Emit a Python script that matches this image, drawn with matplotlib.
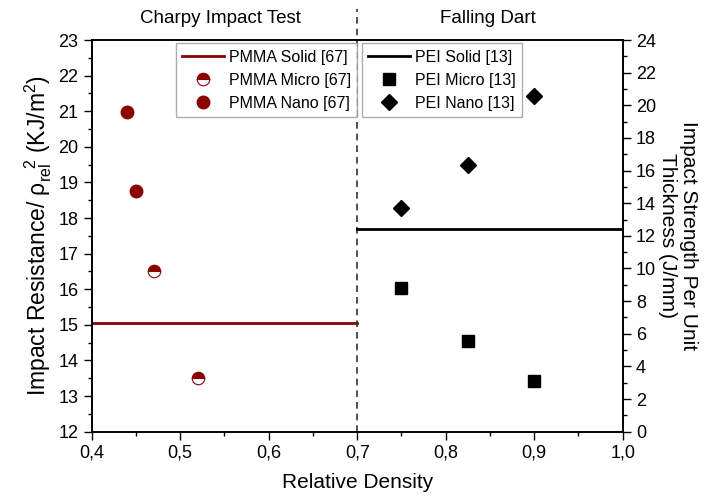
import matplotlib
matplotlib.use('Agg')
import matplotlib.pyplot as plt
from matplotlib.ticker import MultipleLocator, FuncFormatter

plt.rcParams['font.family'] = ['Liberation Sans', 'DejaVu Sans']
plt.rcParams['mathtext.fontset'] = 'custom'
plt.rcParams['mathtext.rm'] = 'Liberation Sans'
plt.rcParams['mathtext.it'] = 'Liberation Sans:italic'

# PMMA (Charpy impact test), left axis
pmma_solid_x = [0.4, 0.7]
pmma_solid_y = [15.05, 15.05]
pmma_micro_x = [0.47, 0.52]
pmma_micro_y = [16.52, 13.5]
pmma_nano_x = [0.44, 0.45]
pmma_nano_y = [20.99, 18.76]

# PEI (falling dart), right axis
pei_solid_x = [0.7, 1.0]
pei_solid_y = [12.45, 12.45]
pei_micro_x = [0.75, 0.825, 0.9]
pei_micro_y = [8.79, 5.56, 3.12]
pei_nano_x = [0.75, 0.825, 0.9]
pei_nano_y = [13.69, 16.34, 20.57]

red = '#8b0000'

fig = plt.figure(figsize=(7.2, 4.97), dpi=100)
ax = fig.add_axes([0.1274, 0.1314, 0.7375, 0.7881])
ax2 = ax.twinx()

l1, = ax.plot(pmma_solid_x, pmma_solid_y, color=red, lw=2, label='PMMA Solid [67]')
l2, = ax.plot(pmma_micro_x, pmma_micro_y, ls='none', marker='o', ms=9, color=red,
              fillstyle='top', markerfacecoloralt='white', markeredgecolor=red,
              markeredgewidth=0.8, label='PMMA Micro [67]')
l3, = ax.plot(pmma_nano_x, pmma_nano_y, ls='none', marker='o', ms=9, color=red,
              label='PMMA Nano [67]')

p1, = ax2.plot(pei_solid_x, pei_solid_y, color='black', lw=2, label='PEI Solid [13]')
p2, = ax2.plot(pei_micro_x, pei_micro_y, ls='none', marker='s', ms=8, color='black',
               label='PEI Micro [13]')
p3, = ax2.plot(pei_nano_x, pei_nano_y, ls='none', marker='D', ms=8, color='black',
               label='PEI Nano [13]')

ax.set_xlim(0.4, 1.0)
ax.set_ylim(12, 23)
ax2.set_ylim(0, 24)

ax.xaxis.set_major_locator(MultipleLocator(0.1))
ax.xaxis.set_minor_locator(MultipleLocator(0.05))
ax.xaxis.set_major_formatter(FuncFormatter(lambda v, p: f'{v:.1f}'.replace('.', ',')))
ax.yaxis.set_major_locator(MultipleLocator(1))
ax.yaxis.set_minor_locator(MultipleLocator(0.5))
ax2.yaxis.set_major_locator(MultipleLocator(2))
ax2.yaxis.set_minor_locator(MultipleLocator(1))

for a in (ax, ax2):
    a.tick_params(which='major', direction='out', length=6, width=1, labelsize=13)
    a.tick_params(which='minor', direction='out', length=3, width=1)
    for s in a.spines.values():
        s.set_linewidth(1.2)

ax.set_xlabel('Relative Density', fontsize=15, labelpad=8)
ax.set_ylabel('Impact Resistance/ ρ$_{\\rm rel}^{\\ \\ \\ 2}$ (KJ/m$^2$)', fontsize=16.5, labelpad=3)
ax2.set_ylabel('Impact Strength Per Unit\nThickness (J/mm)', fontsize=15,
               rotation=270, labelpad=30, linespacing=1.1)

# section divider and headers
ax.axvline(0.7, ymin=0, ymax=1.08, color='#333333', lw=1.2, ls=(0, (4, 3)), clip_on=False)
ax.text(0.545, 1.056, 'Charpy Impact Test', transform=ax.get_xaxis_transform(),
        ha='center', va='center', fontsize=13.5)
ax.text(0.848, 1.056, 'Falling Dart', transform=ax.get_xaxis_transform(),
        ha='center', va='center', fontsize=13.5)

legend_kw = dict(fontsize=11.5, fancybox=False, edgecolor='#999999', handlelength=2.6,
                 handletextpad=0.3, borderpad=0.4, borderaxespad=0, labelspacing=0.5)
leg1 = ax2.legend(handles=[l1, l2, l3], loc='upper right', bbox_to_anchor=(0.4996, 0.992),
                  **legend_kw)
ax2.add_artist(leg1)
ax2.legend(handles=[p1, p2, p3], loc='upper left', bbox_to_anchor=(0.509, 0.992),
           **legend_kw)

fig.savefig('out.png', dpi=100)
